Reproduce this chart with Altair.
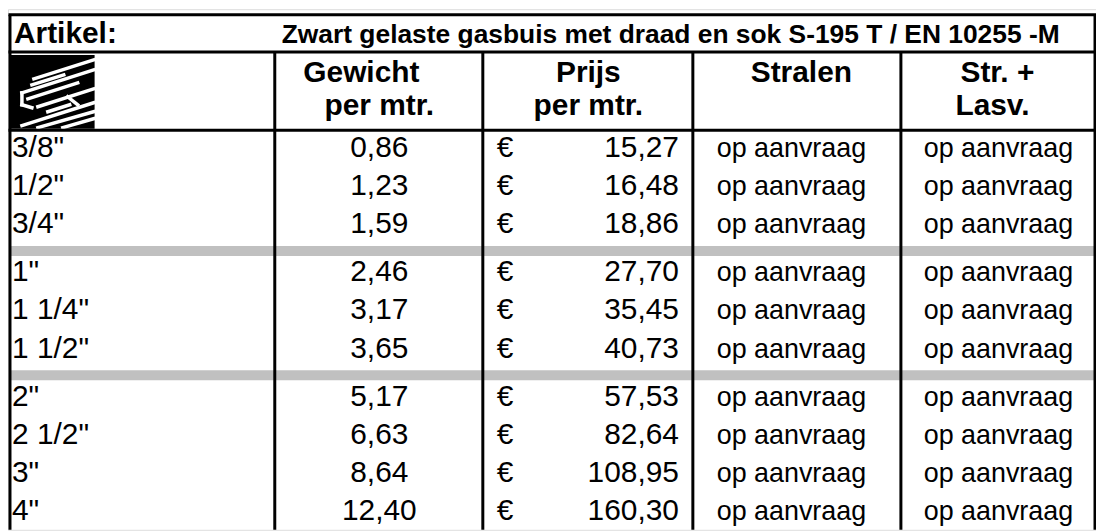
import altair as alt
import pandas as pd

# ---------------- data ----------------
title_text = "PRIJSLIJST 16-10-2023"
artikel_label = "Artikel:"
artikel_desc = "Zwart gelaste gasbuis met draad en sok S-195 T / EN 10255 -M"
header_line1 = ["Gewicht", "Prijs", "Stralen", "Str. +"]
header_line2 = ["per mtr.", "per mtr.", "", "Lasv."]

sizes = ['3/8"', '1/2"', '3/4"', '1"', '1 1/4"', '1 1/2"', '2"', '2 1/2"', '3"', '4"']
weights = [0.86, 1.23, 1.59, 2.46, 3.17, 3.65, 5.17, 6.63, 8.64, 12.40]
prices = [15.27, 16.48, 18.86, 27.70, 35.45, 40.73, 57.53, 82.64, 108.95, 160.30]
stralen = ["op aanvraag"] * 10
str_lasv = ["op aanvraag"] * 10
groups = [1, 1, 1, 2, 2, 2, 3, 3, 3, 3]

# ---------------- layout (chart pixel units) ----------------
W, H = 1093, 523
col_edges = [2, 268, 477, 688, 897, 1092]
y_top, y_art, y_head = 5.5, 43, 121.5
row_start, row_h, gap = 123.0, 38.3, 10.0
FONT = "Liberation Sans"

row_top = []
for i, g in enumerate(groups):
    row_top.append(row_start + i * row_h + (g - 1) * gap)

xs = alt.Scale(domain=[0, W], range=[0, W])
ys = alt.Scale(domain=[0, H], range=[0, H])
X = lambda f: alt.X(f, type="quantitative", scale=xs, axis=None)
Y = lambda f: alt.Y(f, type="quantitative", scale=ys, axis=None)

rows = pd.DataFrame({
    "size": sizes, "weight": weights, "price": prices,
    "stralen": stralen, "lasv": str_lasv, "top": row_top,
})
rows["base"] = rows["top"] + 25.5

sep = []
for i in range(1, len(groups)):
    if groups[i] != groups[i - 1]:
        sep.append({"x": col_edges[0], "x2": col_edges[-1], "y": row_top[i] - gap, "y2": row_top[i]})
sep_df = pd.DataFrame(sep)

# logo background + white outline / hatching
logo_bg = pd.DataFrame([{"x": 1, "x2": 87, "y": 46, "y2": 120}])
logo_lines = pd.DataFrame([
    {"x": 26, "y": 70, "x2": 86, "y2": 51},
    {"x": 14, "y": 84, "x2": 86, "y2": 61},
    {"x": 14, "y": 84, "x2": 14, "y2": 96},
    {"x": 14, "y": 96, "x2": 24, "y2": 99},
    {"x": 24, "y": 76, "x2": 56, "y2": 66},
    {"x": 20, "y": 90, "x2": 70, "y2": 74},
    {"x": 30, "y": 98, "x2": 86, "y2": 80},
    {"x": 60, "y": 88, "x2": 70, "y2": 96},
    {"x": 14, "y": 117, "x2": 86, "y2": 94},
    {"x": 30, "y": 119, "x2": 86, "y2": 103},
    {"x": 55, "y": 119, "x2": 86, "y2": 110},
    {"x": 40, "y": 103, "x2": 62, "y2": 96},
])

lines = [
    {"x": 0.5, "x2": W, "y": y_top, "y2": y_top, "w": 3},
    {"x": 0.5, "x2": W, "y": y_art, "y2": y_art, "w": 3},
    {"x": 0.5, "x2": W, "y": y_head, "y2": y_head, "w": 3},
    {"x": col_edges[0], "x2": col_edges[0], "y": y_top, "y2": H, "w": 3},
    {"x": col_edges[-1], "x2": col_edges[-1], "y": y_top, "y2": H, "w": 3},
]
for cx in col_edges[1:-1]:
    lines.append({"x": cx, "x2": cx, "y": y_art, "y2": H, "w": 3})
lines_df = pd.DataFrame(lines)

hdr = pd.DataFrame({
    "t1": header_line1, "t2": header_line2,
    "x": [355, 583, 797, 994], "x2": [373, 583, 797, 989],
})

base = alt.Chart(rows)

bars = alt.Chart(sep_df).mark_rect(color="#c0c0c0").encode(
    x=X("x"), x2="x2", y=Y("y"), y2="y2")
logo_rect = alt.Chart(logo_bg).mark_rect(color="black").encode(
    x=X("x"), x2="x2", y=Y("y"), y2="y2")
logo_str = alt.Chart(logo_lines).mark_rule(color="white", strokeWidth=3.5, strokeCap="square").encode(
    x=X("x"), x2="x2", y=Y("y"), y2="y2")
grid = alt.Chart(lines_df).mark_rule(color="black").encode(
    x=X("x"), x2="x2", y=Y("y"), y2="y2",
    strokeWidth=alt.StrokeWidth("w:Q", scale=None, legend=None))

title = alt.Chart(pd.DataFrame({"t": [title_text], "x": [277], "y": [-4]})).mark_text(
    font=FONT, fontSize=31, fontWeight="bold", align="left", baseline="alphabetic", color="black"
).encode(x=X("x"), y=Y("y"), text="t:N")
art = alt.Chart(pd.DataFrame({"t": [artikel_label], "x": [6], "y": [34]})).mark_text(
    font=FONT, fontSize=30, fontWeight="bold", align="left", baseline="alphabetic", color="black"
).encode(x=X("x"), y=Y("y"), text="t:N")
desc = alt.Chart(pd.DataFrame({"t": [artikel_desc], "x": [275], "y": [34]})).mark_text(
    font=FONT, fontSize=26.5, fontWeight="bold", align="left", baseline="alphabetic", color="black"
).encode(x=X("x"), y=Y("y"), text="t:N")
h1 = alt.Chart(hdr).transform_calculate(y="73").mark_text(
    font=FONT, fontSize=30, fontWeight="bold", align="center", baseline="alphabetic", color="black"
).encode(x=X("x"), y=Y("y"), text="t1:N")
h2 = alt.Chart(hdr).transform_calculate(y="106").mark_text(
    font=FONT, fontSize=30, fontWeight="bold", align="center", baseline="alphabetic", color="black"
).encode(x=X("x2"), y=Y("y"), text="t2:N")

tsize = base.transform_calculate(x="4").mark_text(
    font=FONT, fontSize=30, align="left", baseline="alphabetic", color="black"
).encode(x=X("x"), y=Y("base"), text="size:N")
tweight = base.transform_calculate(x="373").mark_text(
    font=FONT, fontSize=30, align="center", baseline="alphabetic", color="black"
).encode(x=X("x"), y=Y("base"), text=alt.Text("weight:Q", format=".2f"))
teuro = base.transform_calculate(x="491", e="'€'").mark_text(
    font=FONT, fontSize=30, align="left", baseline="alphabetic", color="black"
).encode(x=X("x"), y=Y("base"), text="e:N")
tprice = base.transform_calculate(x="674").mark_text(
    font=FONT, fontSize=30, align="right", baseline="alphabetic", color="black"
).encode(x=X("x"), y=Y("base"), text=alt.Text("price:Q", format=".2f"))
tstr = base.transform_calculate(x="787").mark_text(
    font=FONT, fontSize=27, align="center", baseline="alphabetic", color="black"
).encode(x=X("x"), y=Y("base"), text="stralen:N")
tlas = base.transform_calculate(x="995").mark_text(
    font=FONT, fontSize=27, align="center", baseline="alphabetic", color="black"
).encode(x=X("x"), y=Y("base"), text="lasv:N")

chart = alt.layer(
    bars, logo_rect, logo_str, grid, title, art, desc, h1, h2,
    tsize, tweight, teuro, tprice, tstr, tlas
).properties(
    width=W, height=H, padding=0, autosize=alt.AutoSizeParams(type="none"),
    background="white"
).configure_view(strokeWidth=0).configure(
    locale={"number": {"decimal": ",", "thousands": ".", "grouping": [3], "currency": ["€", ""]}}
)

chart.save("out.html", embed_options={"renderer": "svg", "actions": False})
